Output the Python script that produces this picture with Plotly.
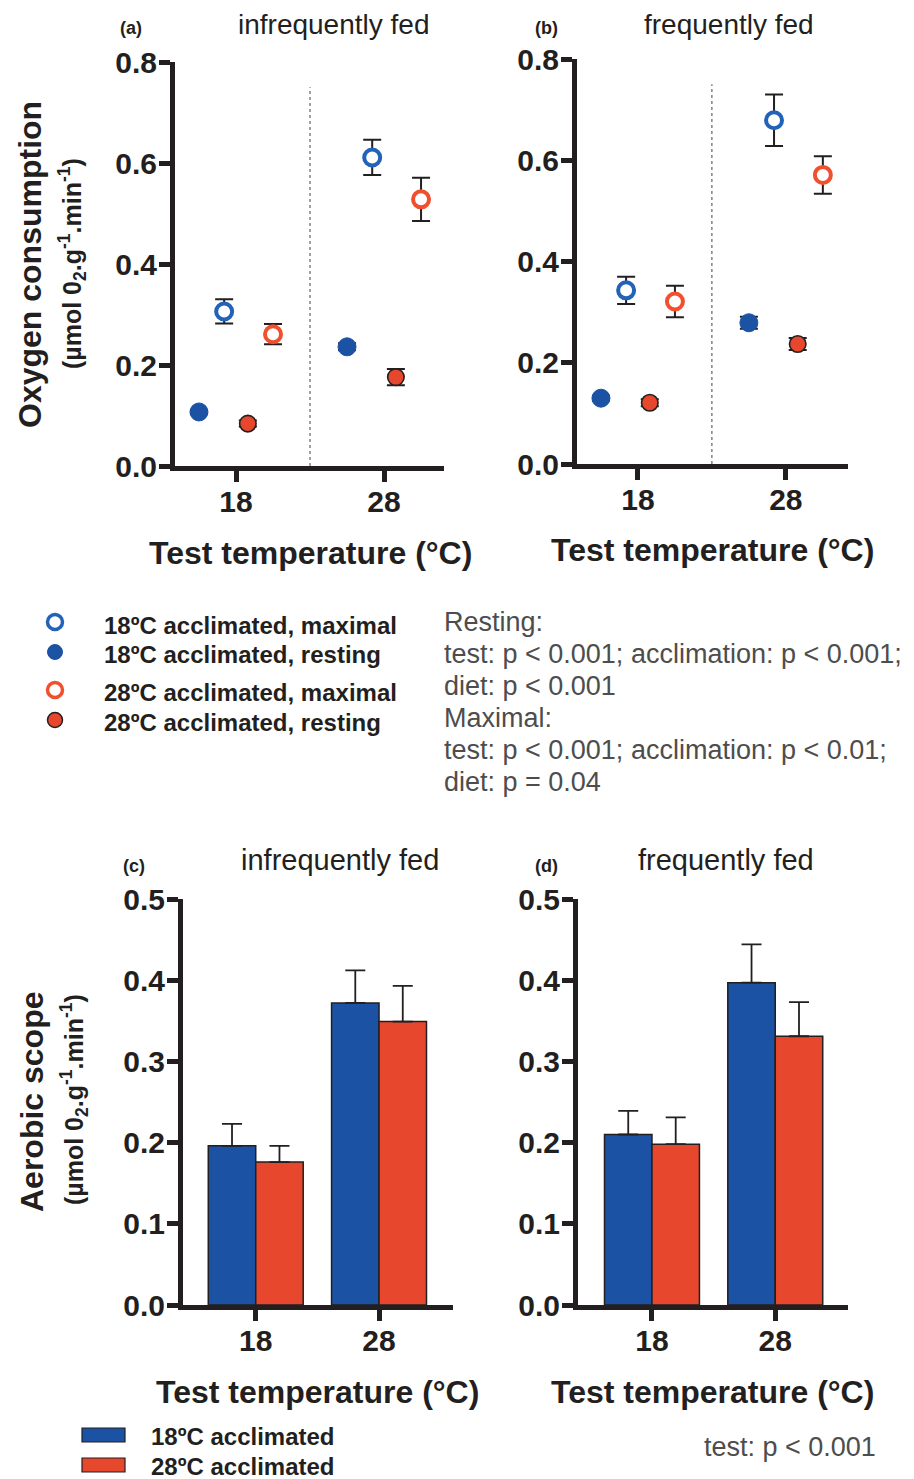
import plotly.graph_objects as go

W, H = 914, 1479
OFF = 8  # page body margin added by the browser around the figure
def px(x): return (x - OFF) / W
def py(y): return 1 - (y - OFF) / H

FONT = "Liberation Sans, Arial, Helvetica, sans-serif"
INK = "#231f20"
BLUE = "#1c52a3"
BLUE_LINE = "#2262b8"
RED = "#e6472d"
ORANGE_LINE = "#f0502e"

# ---------------- data ----------------
test_temps = [18, 28]
test_labels = ["18", "28"]

# Oxygen consumption, infrequently fed (panel a)
infreq_18_max = [0.306, 0.611]
infreq_18_max_err = [0.024, 0.035]
infreq_18_rest = [0.107, 0.236]
infreq_18_rest_err = [0.004, 0.007]
infreq_28_max = [0.261, 0.528]
infreq_28_max_err = [0.020, 0.043]
infreq_28_rest = [0.084, 0.176]
infreq_28_rest_err = [0.006, 0.016]

# Oxygen consumption, frequently fed (panel b)
freq_18_max = [0.343, 0.679]
freq_18_max_err = [0.027, 0.051]
freq_18_rest = [0.130, 0.279]
freq_18_rest_err = [0.005, 0.012]
freq_28_max = [0.321, 0.571]
freq_28_max_err = [0.031, 0.037]
freq_28_rest = [0.121, 0.237]
freq_28_rest_err = [0.007, 0.012]

# Aerobic scope (panels c, d)
scope_infreq_18acc = [0.196, 0.372]
scope_infreq_18acc_err = [0.027, 0.040]
scope_infreq_28acc = [0.176, 0.349]
scope_infreq_28acc_err = [0.020, 0.044]
scope_freq_18acc = [0.210, 0.397]
scope_freq_18acc_err = [0.029, 0.047]
scope_freq_28acc = [0.198, 0.331]
scope_freq_28acc_err = [0.033, 0.042]

# horizontal dodge of the four groups around each test temperature
dodge = {"18rest": -2.5, "18max": -0.8, "28rest": 0.8, "28max": 2.5}

fig = go.Figure()

def add_points(xa, ya, vals, errs, key, kind):
    xs = [t + dodge[key] for t in test_temps]
    if key.startswith("18"):
        if kind == "max":
            marker = dict(symbol="circle", size=16, color="white",
                          line=dict(color=BLUE_LINE, width=4))
        else:
            marker = dict(symbol="circle", size=18, color=BLUE,
                          line=dict(color=BLUE, width=1))
    else:
        if kind == "max":
            marker = dict(symbol="circle", size=16, color="white",
                          line=dict(color=ORANGE_LINE, width=4))
        else:
            marker = dict(symbol="circle", size=16.5, color=RED,
                          line=dict(color=INK, width=1.6))
    fig.add_trace(go.Scatter(
        x=xs, y=vals, mode="markers", marker=marker,
        error_y=dict(type="data", array=errs, visible=True,
                     color=INK, thickness=2, width=9),
        xaxis=xa, yaxis=ya, showlegend=False, cliponaxis=False))

for xa, ya, d in [
    ("x", "y", [(infreq_18_rest, infreq_18_rest_err, "18rest", "rest"),
                (infreq_18_max, infreq_18_max_err, "18max", "max"),
                (infreq_28_rest, infreq_28_rest_err, "28rest", "rest"),
                (infreq_28_max, infreq_28_max_err, "28max", "max")]),
    ("x2", "y2", [(freq_18_rest, freq_18_rest_err, "18rest", "rest"),
                  (freq_18_max, freq_18_max_err, "18max", "max"),
                  (freq_28_rest, freq_28_rest_err, "28rest", "rest"),
                  (freq_28_max, freq_28_max_err, "28max", "max")]),
]:
    for vals, errs, key, kind in d:
        add_points(xa, ya, vals, errs, key, kind)

def add_bars(xa, ya, vals, errs, color):
    fig.add_trace(go.Bar(
        x=test_labels, y=vals, marker=dict(color=color, line=dict(color=INK, width=1.5)),
        error_y=dict(type="data", symmetric=False, array=errs, arrayminus=[0] * len(errs),
                     visible=True, color=INK, thickness=1.8, width=10),
        xaxis=xa, yaxis=ya, showlegend=False))

add_bars("x3", "y3", scope_infreq_18acc, scope_infreq_18acc_err, BLUE)
add_bars("x3", "y3", scope_infreq_28acc, scope_infreq_28acc_err, RED)
add_bars("x4", "y4", scope_freq_18acc, scope_freq_18acc_err, BLUE)
add_bars("x4", "y4", scope_freq_28acc, scope_freq_28acc_err, RED)

tickfont = dict(family=FONT, size=30, color=INK, weight=700)
def xaxis_style(domain, rng, **kw):
    d = dict(domain=domain, range=rng, showline=True, linewidth=5, linecolor=INK,
             ticks="outside", ticklen=11, tickwidth=5, tickcolor=INK, automargin=False,
             ticklabelstandoff=-6,
             showgrid=False, zeroline=False, tickfont=tickfont, fixedrange=True)
    d.update(kw)
    return d
def yaxis_style(domain, rng, dtick, anchor):
    return dict(domain=domain, range=rng, showline=True, linewidth=5, linecolor=INK,
                ticks="outside", ticklen=11, tickwidth=5, tickcolor=INK, automargin=False,
                ticklabelstandoff=-4,
                showgrid=False, zeroline=False, tickfont=tickfont, dtick=dtick,
                tick0=0, tickformat=".1f", anchor=anchor, fixedrange=True)

fig.update_layout(
    template="none",
    width=W, height=H, margin=dict(l=0, r=0, t=0, b=0, pad=0, autoexpand=False),
    paper_bgcolor="white", plot_bgcolor="white",
    font=dict(family=FONT, color=INK),
    barmode="group", bargap=0.23, bargroupgap=0,
    xaxis=xaxis_style([px(175), px(444)], [13.88, 32.05], tickvals=test_temps,
                      ticktext=test_labels, anchor="y"),
    yaxis=yaxis_style([py(466), py(62)], [0, 0.8], 0.2, "x"),
    xaxis2=xaxis_style([px(577), px(848)], [13.88, 32.2], tickvals=test_temps,
                       ticktext=test_labels, anchor="y2"),
    yaxis2=yaxis_style([py(464), py(59)], [0, 0.8], 0.2, "x2"),
    xaxis3=xaxis_style([px(183), px(453)], [-0.59, 1.6], type="category", anchor="y3"),
    yaxis3=yaxis_style([py(1305), py(899)], [0, 0.5], 0.1, "x3"),
    xaxis4=xaxis_style([px(578), px(848)], [-0.6, 1.59], type="category", anchor="y4"),
    yaxis4=yaxis_style([py(1305), py(899)], [0, 0.5], 0.1, "x4"),
)

# dotted separators between test temperatures
for xr, yr in [("x", "y"), ("x2", "y2")]:
    fig.add_shape(type="line", xref=xr, yref=yr, x0=23, x1=23, y0=0, y1=0.75,
                  line=dict(color="#444444", width=1, dash="dot"))

ann = []
def text(x, y, s, size, bold=False, color=INK, xanchor="center", angle=0, yanchor="middle"):
    ann.append(dict(x=px(x), y=min(py(y), 1.0), xref="paper", yref="paper", text=s,
                    showarrow=False, xanchor=xanchor, yanchor=yanchor, textangle=angle,
                    borderpad=0, font=dict(family=FONT, size=size, color=color,
                              weight=700 if bold else 400)))

# panel labels and titles
text(131, 28, "(a)", 18, True)
text(333, 6, "infrequently fed", 28, yanchor="top")
text(546, 28, "(b)", 18, True)
text(729, 6, "frequently fed", 28, yanchor="top")
text(134, 866, "(c)", 18, True)
text(340, 860, "infrequently fed", 29)
text(546, 866, "(d)", 18, True)
text(726, 860, "frequently fed", 29)

# axis titles
text(310, 553, "Test temperature (°C)", 32, True)
text(712, 550, "Test temperature (°C)", 32, True)
text(317, 1392, "Test temperature (°C)", 32, True)
text(712, 1392, "Test temperature (°C)", 32, True)
unit = "(µmol 0<sub>2</sub>.g<sup>-1</sup>.min<sup>-1</sup>)"
text(30, 265, "Oxygen consumption", 32, True, angle=-90)
text(72, 264, unit, 25, True, angle=-90)
text(32, 1102, "Aerobic scope", 32, True, angle=-90)
text(74, 1100, unit, 25, True, angle=-90)

# top legend
legend_rows = [
    (622, 625, "18ºC acclimated, maximal", "white", BLUE_LINE, 3.5),
    (652, 654, "18ºC acclimated, resting", BLUE, BLUE, 1),
    (690, 692, "28ºC acclimated, maximal", "white", ORANGE_LINE, 3.5),
    (720, 722, "28ºC acclimated, resting", RED, INK, 1.5),
]
shapes = []
for my, ty, label, fill, line, lw in legend_rows:
    r = 7.5
    shapes.append(dict(type="circle", xref="paper", yref="paper",
                       x0=px(55 - r), x1=px(55 + r), y0=py(my + r), y1=py(my - r),
                       fillcolor=fill, line=dict(color=line, width=lw)))
    text(103, ty, label, 24, True, xanchor="left")

GRAY = "#4d4d4d"
stats_lines = ["Resting:",
               "test: p < 0.001; acclimation: p < 0.001;",
               "diet: p < 0.001",
               "Maximal:",
               "test: p < 0.001; acclimation: p < 0.01;",
               "diet: p = 0.04"]
for i, s in enumerate(stats_lines):
    text(443, 622 + 32 * i, s, 27, color=GRAY, xanchor="left")

# bottom legend
for y0, color, label in [(1428, BLUE, "18ºC acclimated"), (1458, RED, "28ºC acclimated")]:
    shapes.append(dict(type="rect", xref="paper", yref="paper",
                       x0=px(82), x1=px(125), y0=py(y0 + 14), y1=py(y0),
                       fillcolor=color, line=dict(color=INK, width=1.2)))
    text(150, y0 + 8, label, 24, True, xanchor="left")
text(877, 1447, "test: p < 0.001", 27, color=GRAY, xanchor="right")

fig.update_layout(annotations=ann)
for s in shapes:
    fig.add_shape(**s)

fig.write_html("out.html")
